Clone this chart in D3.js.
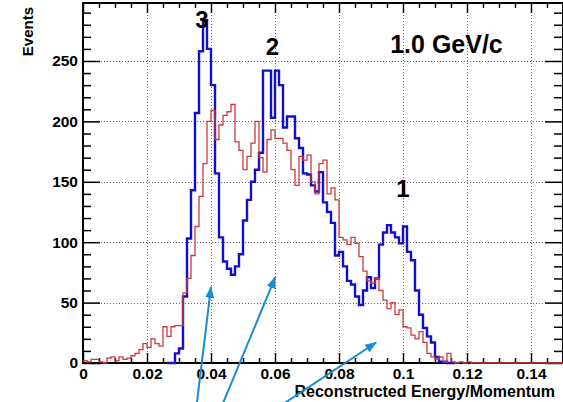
<!DOCTYPE html>
<html><head><meta charset="utf-8">
<script src="https://cdn.jsdelivr.net/npm/d3@7"></script>
<style>
html,body{margin:0;padding:0;background:#fff;overflow:hidden}
svg{display:block}
text{font-family:"Liberation Sans",Arial,Helvetica,sans-serif;font-weight:bold;fill:#000}
</style></head><body>
<svg id="c" width="563" height="402"></svg>
<script>
(function(){
// ---- data ----
const binWidth = 0.00125;
const blueCounts = [
  0,0,0,0,0,0,0,0,0,0, 0,0,0,0,0,0,0,0,0,0,
  0,0,0,8,12,55,103,143,207,258, 284,260,230,157,104,84,78,73,80,90,
  118,135,150,160,174,242,242,203,242,230, 195,204,204,186,178,157,156,147,142,158,
  133,125,116,89,92,80,68,65,55,48, 60,71,62,70,98,108,114,108,104,99,
  113,92,85,60,40,29,22,17,5,1, 1,0,0,0,0,0,0,0,0,0,
  0,0,0,0,0,0,0,0,0,0, 0,0,0,0,0,0,0,0,0,0
];
const redCounts = [
  2,1,3,3,1,0,4,5,2,5, 3,4,6,8,11,16,13,20,16,14,
  30,22,30,31,31,58,70,89,113,138, 165,200,209,185,197,205,208,214,183,176,
  160,171,182,200,170,158,185,193,186,186, 182,176,160,147,171,168,172,150,140,165,
  168,140,145,135,104,102,98,104,99,88, 76,68,66,70,60,52,45,50,40,44,
  30,29,23,20,26,17,8,5,3,5, 1,8,1,0,1,0,1,0,0,0,
  0,0,0,0,0,0,0,0,0,0, 0,0,0,0,0,0,0,0,0,0
];
const xTicks = [0,0.02,0.04,0.06,0.08,0.1,0.12,0.14];
const xTickLabels = ["0","0.02","0.04","0.06","0.08","0.1","0.12","0.14"];
const yTicks = [0,50,100,150,200,250];
const yTickLabels = ["0","50","100","150","200","250"];
const xTitle = "Reconstructed Energy/Momentum";
const yTitle = "Events";
const peakLabels = [
  {text:"3", x:0.0372, y:277},
  {text:"2", x:0.0592, y:255},
  {text:"1", x:0.1000, y:137}
];
const momentumLabel = {text:"1.0 GeV/c", x:0.0960, y:257};
const arrows = [
  {x0:0.0356, y0:-33, x1:0.0400, y1:63},
  {x0:0.0438, y0:-33, x1:0.0601, y1:71},
  {x0:0.0631, y0:-33, x1:0.0916, y1:17}
];

// ---- layout ----
const svg = d3.select("#c");
const x = d3.scaleLinear().domain([0,0.15]).range([83,563]);
const y = d3.scaleLinear().domain([0,298]).range([363,3]);

// grid
const grid = svg.append("g").attr("stroke","#666").attr("stroke-width",1).attr("stroke-dasharray","1,2");
xTicks.filter(d=>d>0).forEach(d=>{
  grid.append("line").attr("x1",Math.round(x(d))+0.5).attr("x2",Math.round(x(d))+0.5).attr("y1",y(298)).attr("y2",y(0));
});
yTicks.filter(d=>d>0).forEach(d=>{
  grid.append("line").attr("y1",Math.round(y(d))+0.5).attr("y2",Math.round(y(d))+0.5).attr("x1",x(0)).attr("x2",x(0.15));
});

// axes (ticks inward)
const xMinor = d3.range(0,0.1501,0.005).filter(v=>!xTicks.some(t=>Math.abs(t-v)<1e-9));
const yMinor = d3.range(0,298,10).filter(v=>v%50!==0);

function styleAxis(g){ g.select(".domain").remove(); g.selectAll("line").attr("stroke","#000").attr("stroke-width",1.5); }

const axB = svg.append("g").attr("transform",`translate(0,${y(0)})`)
  .call(d3.axisBottom(x).tickValues(xTicks).tickFormat((d,i)=>xTickLabels[i]).tickSizeInner(-10).tickSizeOuter(0).tickPadding(5));
styleAxis(axB);
axB.selectAll("text").attr("font-size","15.5px").attr("fill","#000");
const axBm = svg.append("g").attr("transform",`translate(0,${y(0)})`)
  .call(d3.axisBottom(x).tickValues(xMinor).tickFormat("").tickSizeInner(-5).tickSizeOuter(0));
styleAxis(axBm);

const axT = svg.append("g").attr("transform",`translate(0,${y(298)})`)
  .call(d3.axisTop(x).tickValues(xTicks).tickFormat("").tickSizeInner(-10).tickSizeOuter(0));
styleAxis(axT);
const axTm = svg.append("g").attr("transform",`translate(0,${y(298)})`)
  .call(d3.axisTop(x).tickValues(xMinor).tickFormat("").tickSizeInner(-5).tickSizeOuter(0));
styleAxis(axTm);

const axL = svg.append("g").attr("transform",`translate(${x(0)},0)`)
  .call(d3.axisLeft(y).tickValues(yTicks).tickFormat((d,i)=>yTickLabels[i]).tickSizeInner(-17).tickSizeOuter(0).tickPadding(5));
styleAxis(axL);
axL.selectAll("text").attr("font-size","15.5px").attr("fill","#000");
const axLm = svg.append("g").attr("transform",`translate(${x(0)},0)`)
  .call(d3.axisLeft(y).tickValues(yMinor).tickFormat("").tickSizeInner(-8).tickSizeOuter(0));
styleAxis(axLm);

const axR = svg.append("g").attr("transform",`translate(${x(0.15)},0)`)
  .call(d3.axisRight(y).tickValues(yTicks).tickFormat("").tickSizeInner(-18).tickSizeOuter(0));
styleAxis(axR);
const axRm = svg.append("g").attr("transform",`translate(${x(0.15)},0)`)
  .call(d3.axisRight(y).tickValues(yMinor).tickFormat("").tickSizeInner(-9).tickSizeOuter(0));
styleAxis(axRm);

// frame
svg.append("rect").attr("x",x(0)).attr("y",y(298)).attr("width",x(0.15)-x(0)).attr("height",y(0)-y(298))
  .attr("fill","none").attr("stroke","#000").attr("stroke-width",2);

// histograms
function stepPoints(counts, from, to){
  const pts=[];
  for(let i=from;i<=to;i++){
    pts.push([i*binWidth, counts[i]]);
    pts.push([(i+1)*binWidth, counts[i]]);
  }
  return pts;
}
const line = d3.line().x(d=>x(d[0])).y(d=>y(d[1]));
svg.append("path").attr("d", line(stepPoints(blueCounts, 21, 92)))
  .attr("fill","none").attr("stroke","#1010cc").attr("stroke-width",2.4).attr("stroke-linejoin","miter");
svg.append("path").attr("d", line(stepPoints(redCounts, 0, redCounts.length-1)))
  .attr("fill","none").attr("stroke","#cc3a3a").attr("stroke-width",1.3);

// titles
svg.append("text").attr("x",555).attr("y",397).attr("text-anchor","end").attr("font-size","16px").text(xTitle);
svg.append("text").attr("transform","translate(33,7) rotate(-90)").attr("text-anchor","end").attr("font-size","15px").text(yTitle);

// peak labels
svg.selectAll("text.peak").data(peakLabels).enter().append("text").attr("class","peak")
  .attr("x",d=>x(d.x)).attr("y",d=>y(d.y)).attr("text-anchor","middle").attr("font-size","24px").text(d=>d.text);
svg.append("text").attr("x",x(momentumLabel.x)).attr("y",y(momentumLabel.y)).attr("font-size","25px").text(momentumLabel.text);

// arrows
const defs = svg.append("defs");
defs.append("marker").attr("id","ah").attr("markerUnits","userSpaceOnUse").attr("viewBox","0 -5 12 10")
  .attr("refX",11).attr("refY",0).attr("markerWidth",12).attr("markerHeight",10).attr("orient","auto")
  .append("path").attr("d","M0,-4.5L12,0L0,4.5Z").attr("fill","#1a8bd1");
svg.selectAll("line.arrow").data(arrows).enter().append("line").attr("class","arrow")
  .attr("x1",d=>x(d.x0)).attr("y1",d=>y(d.y0)).attr("x2",d=>x(d.x1)).attr("y2",d=>y(d.y1))
  .attr("stroke","#1a8bd1").attr("stroke-width",2).attr("marker-end","url(#ah)");
})();
</script>
</body></html>
